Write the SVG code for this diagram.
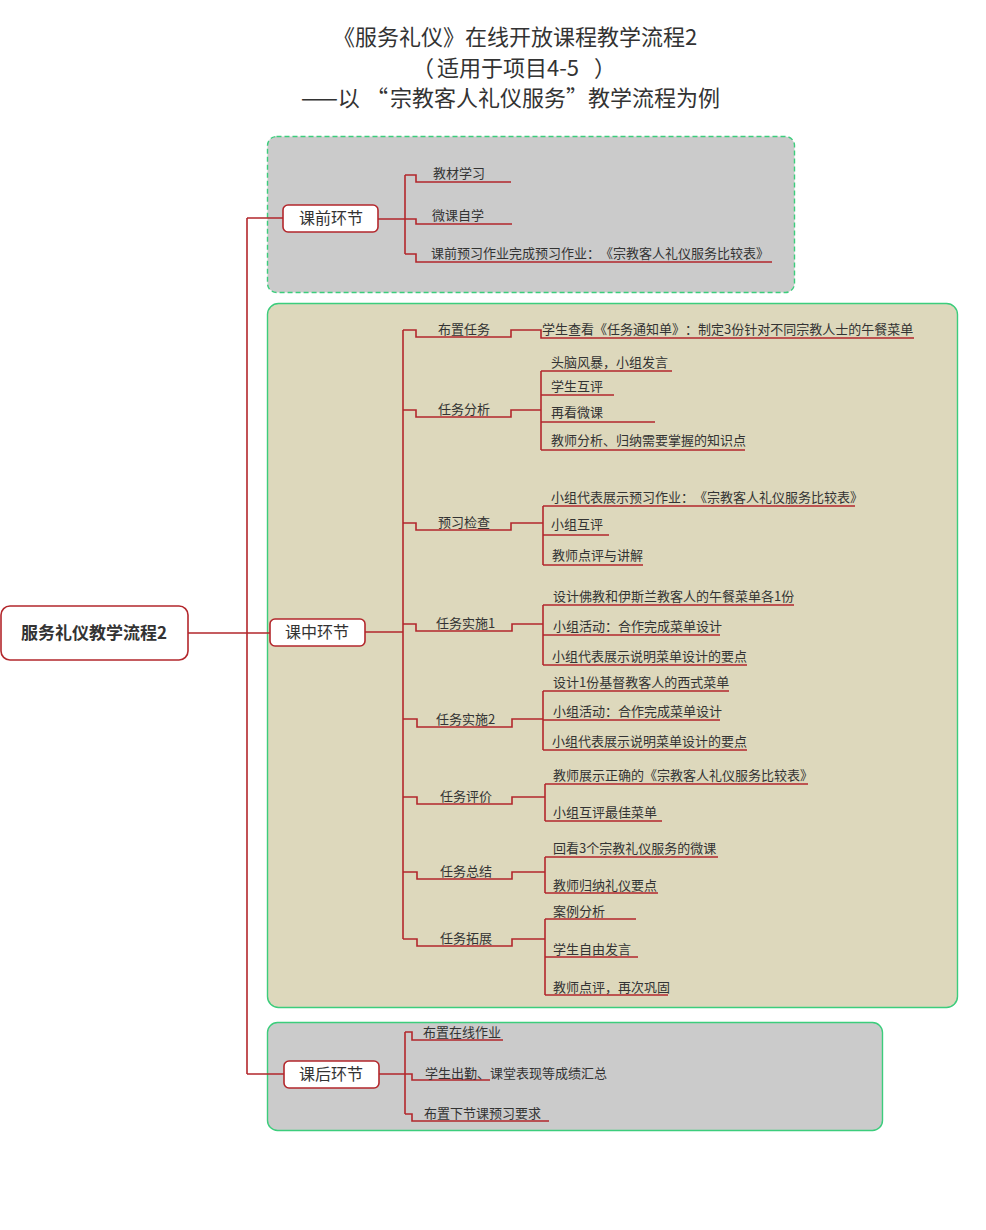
<svg xmlns="http://www.w3.org/2000/svg" width="986" height="1230" viewBox="0 0 986 1230">
<defs>
<style>
text{font-family:"Noto Sans CJK SC","Microsoft YaHei",sans-serif;fill:#333;text-spacing-trim:space-all}
.title{font-size:22px;text-anchor:middle}
.tl{font-size:22px;text-anchor:start}
.t13{font-size:13px}
.t16{font-size:16px;text-anchor:middle}
.root{font-size:17px;font-weight:bold;text-anchor:middle}
.ln{fill:none;stroke:#b3272c;stroke-width:1.6}
.node{fill:#fff;stroke:#b3272c;stroke-width:1.6}
.gbox{fill:#cbcbcb;stroke:#3ccd7c;stroke-width:1.4}
.bbox{fill:#ddd8bc;stroke:#3ccd7c;stroke-width:1.4}
</style>
</defs>
<rect width="986" height="1230" fill="#fff"/>
<g id="title">
<text class="title" x="515" y="45">《服务礼仪》在线开放课程教学流程2</text>
<text class="tl" y="76"><tspan x="412">（</tspan><tspan x="437">适用于项目4-5</tspan><tspan x="594">）</tspan></text>
<text class="tl" y="106"><tspan x="301">——以</tspan><tspan x="366">“</tspan><tspan x="390">宗教客人礼仪服务</tspan><tspan x="566">”</tspan><tspan x="588">教学流程为例</tspan></text>
</g>
<g id="boxes">
<rect class="gbox" x="267.5" y="136.5" width="527" height="156" rx="9" stroke-dasharray="5,3"/>
<rect class="bbox" x="267.5" y="303.5" width="690" height="704" rx="11"/>
<rect class="gbox" x="267.5" y="1022.5" width="615" height="108" rx="10"/>
</g>
<g id="connectors" class="ln">
<path d="M188,633 H270 M247,218 V1074 M247,218 H283 M247,1074 H284"/>
<path d="M378,219 H405 M405,175 V254 M405,175 H416 V182 H511 M405,219 H416 V224 H512 M405,254 H416 V262 H772"/>
<path d="M365,632 H403 M403,330 V939"/>
<path d="M403,330 H416 V337 H511 V330 H541 V338 H914"/>
<path d="M403,410 H416 V417 H511 V410 H541 M541,371 V450 M541,371 H672 M541,395 H614 M541,422 H655 M541,450 H745"/>
<path d="M403,523 H416 V530 H511 V523 H543 M543,506 V565 M543,506 H855 M543,535 H609 M543,565 H643"/>
<path d="M403,624 H416 V631 H512 V624 H543 M543,605 V665 M543,605 H794 M543,635 H720 M543,665 H747"/>
<path d="M403,719 H417 V727 H512 V719 H543 M543,691 V750 M543,691 H729 M543,720 H720 M543,750 H747"/>
<path d="M403,797 H417 V804 H512 V797 H545 M545,784 V821 M545,784 H808 M545,821 H662"/>
<path d="M403,872 H417 V879 H512 V872 H545 M545,857 V893 M545,857 H718 M545,893 H658"/>
<path d="M403,939 H417 V946 H512 V939 H545 M545,919 V995 M545,919 H636 M545,957 H638 M545,995 H668"/>
<path d="M379,1074 H405 M405,1032 V1114 M405,1032 H412 V1040 H503 M405,1074 H412 V1080 H490 M405,1114 H412 V1121 H549"/>
</g>
<g id="root">
<rect class="node" x="1" y="606" width="187" height="54" rx="9"/>
<text class="root" x="94" y="639">服务礼仪教学流程2</text>
</g>
<g id="pre">
<rect class="node" x="283" y="205" width="95" height="27" rx="5"/>
<text class="t16" x="331" y="224">课前环节</text>
</g>
<g id="pre-leaves">
<text class="t13" x="433" y="178">教材学习</text>
<text class="t13" x="432" y="220">微课自学</text>
<text class="t13" x="431" y="258">课前预习作业完成预习作业：《宗教客人礼仪服务比较表》</text>
</g>
<g id="mid">
<rect class="node" x="270" y="619" width="95" height="27" rx="5"/>
<text class="t16" x="317" y="638">课中环节</text>
</g>
<g id="mid-tasks">
<text class="t13" x="438" y="334">布置任务</text>
<text class="t13" x="438" y="414">任务分析</text>
<text class="t13" x="438" y="527">预习检查</text>
<text class="t13" x="436" y="628">任务实施1</text>
<text class="t13" x="436" y="724">任务实施2</text>
<text class="t13" x="440" y="801">任务评价</text>
<text class="t13" x="440" y="876">任务总结</text>
<text class="t13" x="440" y="943">任务拓展</text>
</g>
<g id="mid-leaves">
<text class="t13" x="542" y="334">学生查看《任务通知单》：制定3份针对不同宗教人士的午餐菜单</text>
<text class="t13" x="551" y="367">头脑风暴，小组发言</text>
<text class="t13" x="551" y="391">学生互评</text>
<text class="t13" x="551" y="417">再看微课</text>
<text class="t13" x="551" y="445">教师分析、归纳需要掌握的知识点</text>
<text class="t13" x="551" y="502">小组代表展示预习作业：《宗教客人礼仪服务比较表》</text>
<text class="t13" x="551" y="529">小组互评</text>
<text class="t13" x="552" y="560">教师点评与讲解</text>
<text class="t13" x="553" y="601">设计佛教和伊斯兰教客人的午餐菜单各1份</text>
<text class="t13" x="553" y="631">小组活动：合作完成菜单设计</text>
<text class="t13" x="552" y="661">小组代表展示说明菜单设计的要点</text>
<text class="t13" x="553" y="687">设计1份基督教客人的西式菜单</text>
<text class="t13" x="553" y="716">小组活动：合作完成菜单设计</text>
<text class="t13" x="552" y="746">小组代表展示说明菜单设计的要点</text>
<text class="t13" x="553" y="780">教师展示正确的《宗教客人礼仪服务比较表》</text>
<text class="t13" x="553" y="817">小组互评最佳菜单</text>
<text class="t13" x="553" y="853">回看3个宗教礼仪服务的微课</text>
<text class="t13" x="553" y="890">教师归纳礼仪要点</text>
<text class="t13" x="553" y="916">案例分析</text>
<text class="t13" x="553" y="954">学生自由发言</text>
<text class="t13" x="553" y="992">教师点评，再次巩固</text>
</g>
<g id="post">
<rect class="node" x="284" y="1061" width="95" height="27" rx="5"/>
<text class="t16" x="331" y="1080">课后环节</text>
</g>
<g id="post-leaves">
<text class="t13" x="423" y="1037">布置在线作业</text>
<text class="t13" x="425" y="1078">学生出勤、课堂表现等成绩汇总</text>
<text class="t13" x="424" y="1118">布置下节课预习要求</text>
</g>
</svg>
